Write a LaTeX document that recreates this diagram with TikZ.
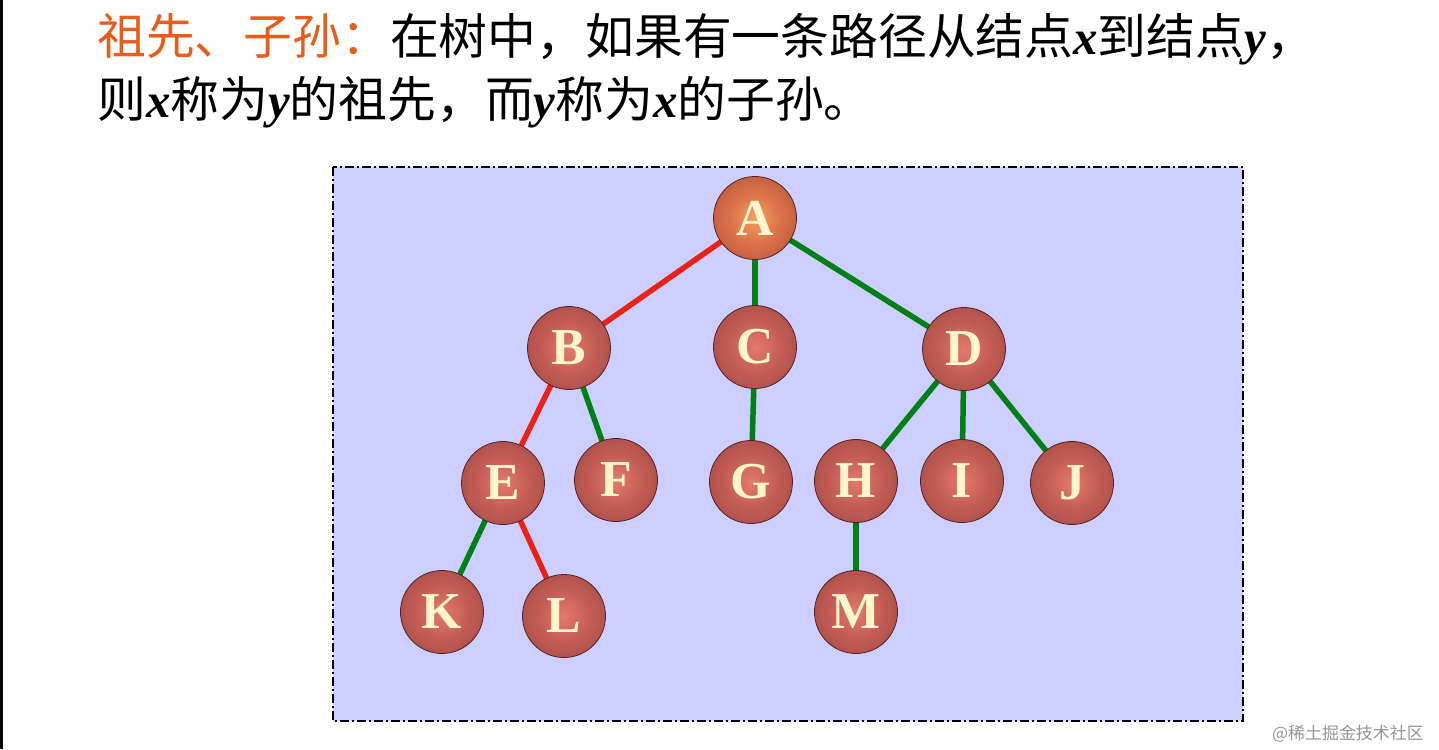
\documentclass[tikz,border=0pt]{standalone}
\usepackage{fontspec}
\setmainfont{Liberation Serif}
\newfontfamily\cjk{Noto Sans CJK SC}
\definecolor{boxfill}{RGB}{204,207,255}
\definecolor{titleor}{RGB}{232,92,28}
\definecolor{redline}{RGB}{236,32,20}
\definecolor{greenline}{RGB}{0,128,20}
\definecolor{ballin}{RGB}{228,122,110}
\definecolor{ballmid}{RGB}{196,94,86}
\definecolor{ballmid2}{RGB}{158,70,66}
\definecolor{ballout}{RGB}{104,42,42}
\definecolor{ballline}{RGB}{84,34,34}
\definecolor{ballAin}{RGB}{246,160,94}
\definecolor{ballAmid}{RGB}{220,114,74}
\definecolor{ballAmid2}{RGB}{172,78,56}
\definecolor{ballAout}{RGB}{124,52,42}
\definecolor{lettercol}{RGB}{255,246,205}
\definecolor{wmgray}{RGB}{150,150,150}
\pgfdeclareradialshading{myball}{\pgfpoint{0bp}{0bp}}{color(0bp)=(ballin); color(15bp)=(ballmid); color(36bp)=(ballmid2); color(50bp)=(ballout); color(100bp)=(ballout)}
\pgfdeclareradialshading{myballA}{\pgfpoint{0bp}{0bp}}{color(0bp)=(ballAin); color(15bp)=(ballAmid); color(36bp)=(ballAmid2); color(50bp)=(ballAout); color(100bp)=(ballAout)}
\pgfdeclarelayer{back}
\pgfdeclarelayer{bg}
\pgfsetlayers{back,bg,main}
\tikzset{
  ball/.style={circle, minimum size=83bp, inner sep=0pt, draw=ballline, line width=0.8bp,
    shading=myball, text=lettercol, font=\fontsize{52}{52}\selectfont\bfseries},
  aball/.style={ball, shading=myballA},
  redge/.style={draw=redline, line width=5.5bp},
  gedge/.style={draw=greenline, line width=5.5bp},
  titletext/.style={anchor=base west, inner sep=0pt, font=\fontsize{49}{54}\selectfont}
}
\newcommand{\vx}{{\bfseries\itshape x}}
\newcommand{\vy}{{\bfseries\itshape y}}
\begin{document}
\begin{tikzpicture}[x=1bp,y=-1bp]
\begin{pgfonlayer}{back}
\fill[white] (0,0) rectangle (1439,749);
\fill[black] (0,0) rectangle (3,749);
\draw[fill=boxfill, line width=2.2bp, dash pattern=on 9bp off 3bp on 2bp off 3bp] (333,167) rectangle (1243,721);
\end{pgfonlayer}
\useasboundingbox (0,0) rectangle (1439,749);
% title
\node[titletext] (t1) at (97,55) {{\cjk\color{titleor}祖先、子孙：}{\cjk 在树中，如果有一条路径从结点}\vx{\cjk 到结点}\vy{\cjk ，}};
\node[titletext] (t2) at (97,117) {{\cjk 则}\vx{\cjk 称为}\vy{\cjk 的祖先，而}\vy{\cjk 称为}\vx{\cjk 的子孙。}};
% nodes
\node[aball] (A) at (755,218) {A};
\node[ball] (B) at (569,348) {B};
\node[ball] (C) at (755,347) {C};
\node[ball] (D) at (964,349) {D};
\node[ball] (E) at (503,483) {E};
\node[ball] (F) at (616,480) {F};
\node[ball] (G) at (751,482) {G};
\node[ball] (H) at (856,481) {H};
\node[ball] (I) at (962,481) {I};
\node[ball] (J) at (1072,483) {J};
\node[ball] (K) at (442,612) {K};
\node[ball] (L) at (564,616) {L};
\node[ball] (M) at (856,612) {M};
% edges
\begin{pgfonlayer}{bg}
\draw[redge] (A.center) -- (B.center);
\draw[gedge] (A.center) -- (C.center);
\draw[gedge] (A.center) -- (D.center);
\draw[redge] (B.center) -- (E.center);
\draw[gedge] (B.center) -- (F.center);
\draw[gedge] (C.center) -- (G.center);
\draw[gedge] (D.center) -- (H.center);
\draw[gedge] (D.center) -- (I.center);
\draw[gedge] (D.center) -- (J.center);
\draw[gedge] (E.center) -- (K.center);
\draw[redge] (E.center) -- (L.center);
\draw[gedge] (H.center) -- (M.center);
\end{pgfonlayer}
% watermark
\node[anchor=base west, inner sep=0pt, text=wmgray, font=\cjk\fontsize{17}{17}\selectfont] (wm) at (1272,739) {@稀土掘金技术社区};
\end{tikzpicture}
\end{document}
